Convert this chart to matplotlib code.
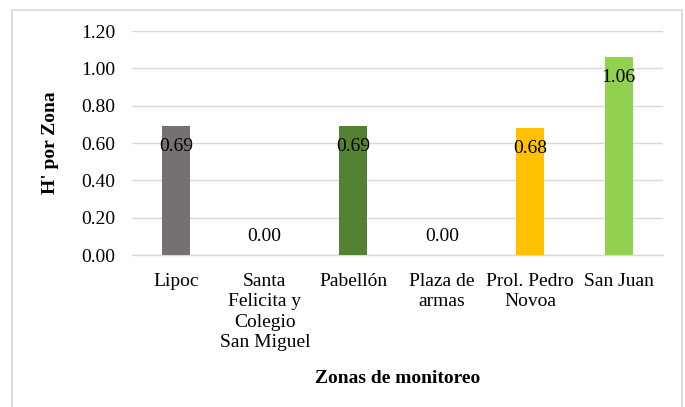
import matplotlib
matplotlib.use("Agg")
import matplotlib.pyplot as plt
from matplotlib.patches import Rectangle

categories = ["Lipoc", "Santa\nFelicita y\nColegio\nSan Miguel", "Pabellón", "Plaza de\narmas", "Prol. Pedro\nNovoa", "San Juan"]
values = [0.69, 0.00, 0.69, 0.00, 0.68, 1.06]
colors = ["#767171", "#A5A5A5", "#548235", "#A5A5A5", "#FFC000", "#92D050"]
yticks = [0.0, 0.2, 0.4, 0.6, 0.8, 1.0, 1.2]

plt.rcParams['font.family'] = ['Liberation Serif', 'DejaVu Serif']

W, H = 685, 407
fig = plt.figure(figsize=(W/100, H/100), dpi=100)
ax = fig.add_axes([132/W, 1-255/H, (663-132)/W, (255-31)/H])

fs = 14
x = list(range(len(categories)))
bars = ax.bar(x, values, width=0.32, color=colors, zorder=3)
ax.set_xlim(-0.5, len(categories)-0.5)
ax.set_ylim(0, 1.2)
ax.set_yticks(yticks)
ax.set_yticklabels([f"{v:.2f}" for v in yticks], fontsize=fs)
ax.set_xticks(x)
ax.set_xticklabels(categories, fontsize=fs, linespacing=1.25, va='top')
ax.tick_params(axis='both', length=0, colors='black')
ax.tick_params(axis='y', pad=12)
ax.tick_params(axis='x', pad=13)
ax.grid(axis='y', color='#D9D9D9', linewidth=1, zorder=0)
for s in ['top', 'right', 'left']:
    ax.spines[s].set_visible(False)
ax.spines['bottom'].set_color('#D9D9D9')
ax.spines['bottom'].set_linewidth(1)

for xi, v in zip(x, values):
    if v > 0.05:
        ax.text(xi, v - 0.11, f"{v:.2f}", ha='center', va='center', fontsize=fs, zorder=4)
    else:
        ax.text(xi, v + 0.10, f"{v:.2f}", ha='center', va='center', fontsize=fs, zorder=4)

ax.set_ylabel("H' por Zona", fontsize=fs, fontweight='bold', labelpad=16)
ax.set_xlabel("Zonas de monitoreo", fontsize=fs, fontweight='bold', labelpad=14)

fig.patches.append(Rectangle((12/W, -0.01), (682-12)/W, 1-10/H+0.01, transform=fig.transFigure,
                             fill=False, edgecolor='#D9D9D9', linewidth=1.2))

fig.savefig("out.png", dpi=100)
